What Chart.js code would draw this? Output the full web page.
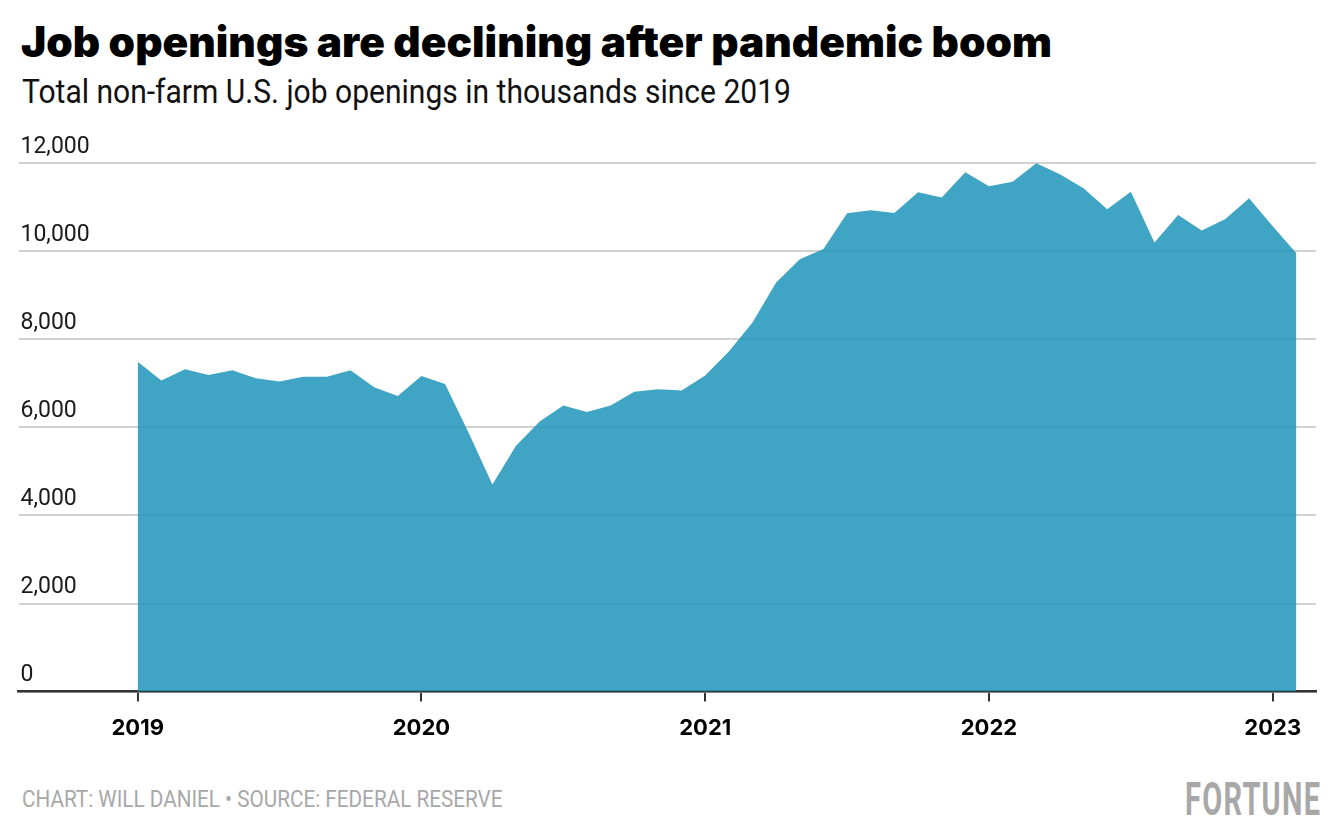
<!DOCTYPE html>
<html>
<head>
<meta charset="utf-8">
<script src="https://cdn.jsdelivr.net/npm/chart.js@4.4.1/dist/chart.umd.min.js"></script>
<style>
    html, body { margin: 0; padding: 0; background: #fff; }
    body { width: 1340px; height: 840px; position: relative; overflow: hidden; }
    .title {
        position: absolute; left: 21px; top: 16px;
        font-family: "Inter", sans-serif; font-weight: 900;
        font-size: 42px; color: #000; white-space: nowrap;
        transform-origin: left top;
    }
    .subtitle {
        position: absolute; left: 22px; top: 72px;
        font-family: "Roboto", sans-serif;
        font-size: 33px; color: #111; white-space: nowrap;
        transform: scaleX(0.91); transform-origin: left top;
    }
    .source {
        position: absolute; left: 22px; top: 786px;
        font-family: "Roboto", sans-serif;
        font-size: 23px; color: #a8a8a8; white-space: nowrap;
        transform: scaleX(0.9); transform-origin: left top;
    }
    .brand {
        position: absolute; right: 19px; top: 772px;
        font-family: "Roboto", sans-serif;
        font-weight: 700; font-size: 46px; color: #a8a8a8;
        letter-spacing: 2px; white-space: nowrap;
        transform: scaleX(0.63); transform-origin: right top;
    }
    #chart-wrap { position: absolute; left: 0; top: 110px; width: 1340px; height: 646px; }
</style>
</head>
<body>
<div class="title">Job openings are declining after pandemic boom</div>
<div class="subtitle">Total non-farm U.S. job openings in thousands since 2019</div>
<div id="chart-wrap"><canvas id="openings-chart"></canvas></div>
<div class="source">CHART: WILL DANIEL • SOURCE: FEDERAL RESERVE</div>
<div class="brand">FORTUNE</div>

<script>
// Monthly, Jan 2019 - Feb 2023 (thousands)
const months = [
    '2019-01', '2019-02', '2019-03', '2019-04', '2019-05', '2019-06',
    '2019-07', '2019-08', '2019-09', '2019-10', '2019-11', '2019-12',
    '2020-01', '2020-02', '2020-03', '2020-04', '2020-05', '2020-06',
    '2020-07', '2020-08', '2020-09', '2020-10', '2020-11', '2020-12',
    '2021-01', '2021-02', '2021-03', '2021-04', '2021-05', '2021-06',
    '2021-07', '2021-08', '2021-09', '2021-10', '2021-11', '2021-12',
    '2022-01', '2022-02', '2022-03', '2022-04', '2022-05', '2022-06',
    '2022-07', '2022-08', '2022-09', '2022-10', '2022-11', '2022-12',
    '2023-01', '2023-02'
];
const openings = [
    7490, 7060, 7320, 7185, 7295, 7115, 7040, 7150, 7145, 7295, 6910, 6710,
    7165, 6985, 5870, 4700, 5580, 6130, 6495, 6350, 6495, 6805, 6865, 6835,
    7175, 7720, 8380, 9285, 9815, 10050, 10860, 10930, 10865, 11335, 11215, 11790,
    11470, 11575, 11995, 11745, 11425, 10950, 11345, 10195, 10820, 10465, 10730, 11200,
    10565, 9950
];
const yearTicks = [0, 12, 24, 36, 48];
const yearLabels = ['2019', '2020', '2021', '2022', '2023'];
const yTicks = [0, 2000, 4000, 6000, 8000, 10000, 12000];

const points = openings.map((v, i) => ({ x: i, y: v }));

// fit the wide title to the reference width
const titleEl = document.querySelector('.title');
const titleWidth = titleEl.getBoundingClientRect().width;
if (titleWidth > 0) titleEl.style.transform = `scaleX(${1031 / titleWidth})`;

const ctx = document.getElementById('openings-chart').getContext('2d');
const chart = new Chart(ctx, {
    type: 'line',
    data: {
        datasets: [{
            label: 'Job openings',
            data: points,
            fill: 'origin',
            backgroundColor: 'rgba(33, 150, 186, 0.86)',
            borderWidth: 0,
            pointRadius: 0,
            tension: 0
        }]
    },
    options: {
        responsive: true,
        maintainAspectRatio: false,
        animation: false,
        layout: {
            padding: { left: 14.5, right: 24, top: 53, bottom: 0 }
        },
        plugins: {
            legend: { display: false },
            tooltip: { enabled: false }
        },
        scales: {
            x: {
                type: 'linear',
                min: -5.04,
                max: 49.83,
                afterBuildTicks: (axis) => {
                    axis.ticks = yearTicks.map(v => ({ value: v }));
                },
                grid: {
                    drawOnChartArea: false,
                    color: '#333',
                    lineWidth: 2,
                    tickLength: 10
                },
                border: { color: '#333', width: 2.5 },
                ticks: {
                    padding: 14,
                    color: '#000',
                    font: { family: 'Inter', weight: '700', size: 22 },
                    callback: (value) => yearLabels[yearTicks.indexOf(value)] ?? ''
                }
            },
            y: {
                min: 0,
                max: 12000,
                afterBuildTicks: (axis) => {
                    axis.ticks = yTicks.map(v => ({ value: v }));
                },
                grid: {
                    color: '#d2d2d2',
                    lineWidth: 2,
                    drawTicks: false
                },
                border: { display: false },
                ticks: {
                    mirror: true,
                    padding: 2,
                    labelOffset: -16,
                    color: '#1a1a1a',
                    font: { family: 'Roboto', size: 23 },
                    callback: (value) => value.toLocaleString('en-US')
                }
            }
        }
    }
});
</script>
</body>
</html>
